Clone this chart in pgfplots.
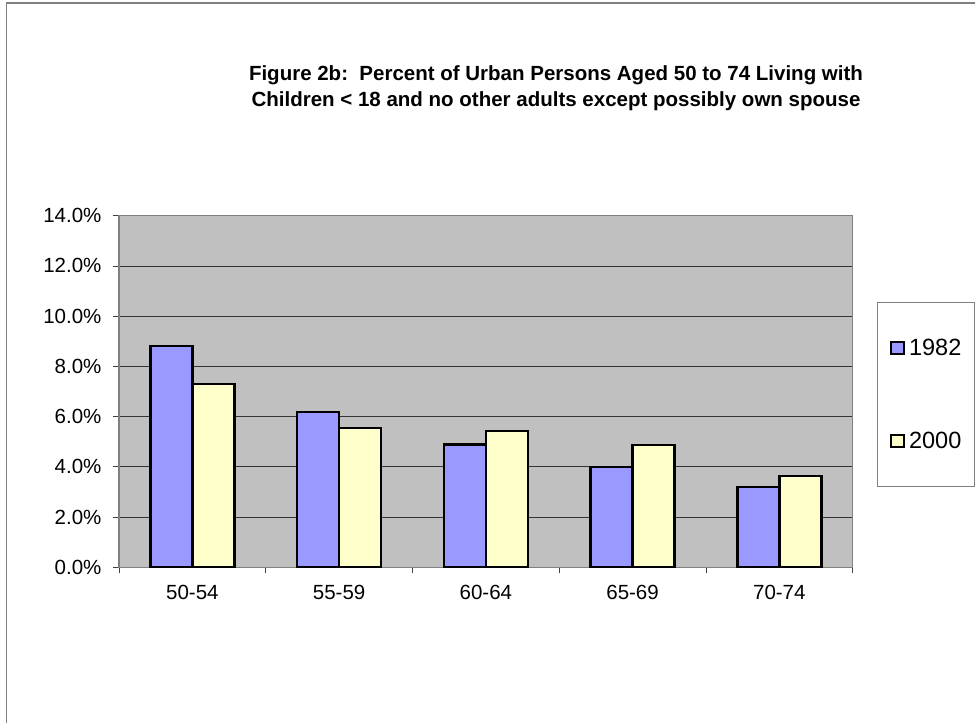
\documentclass[border=0pt]{standalone}
\usepackage{pgfplots}
\pgfplotsset{compat=1.18}
\usepackage{fontspec}
\setmainfont{Liberation Sans}
\definecolor{barA}{HTML}{9999FF}
\definecolor{barB}{HTML}{FFFFCC}
\definecolor{plotbg}{HTML}{C0C0C0}
\definecolor{frame}{HTML}{808080}
\begin{document}
\begin{tikzpicture}
\path[use as bounding box] (0,0) rectangle (975pt,723pt);
\fill[white] (0,0) rectangle (975pt,723pt);
\draw[frame, line width=1.3pt] (6.5pt,0) -- (6.5pt,720pt) -- (975pt,720pt);
\node[font=\fontsize{20.5}{26}\selectfont\bfseries, align=center] at (556pt,635pt)
  {Figure 2b:\ \ Percent of Urban Persons Aged 50 to 74 Living with\\Children < 18 and no other adults except possibly own spouse};
\begin{axis}[
  at={(119pt,155.7pt)}, anchor=south west, scale only axis,
  width=733.7pt, height=351.6pt,
  ybar=0pt, bar width=42pt,
  xmin=-0.5, xmax=4.5, ymin=0, ymax=14,
  xtick={-0.5,0.5,1.5,2.5,3.5,4.5},
  x tick label as interval,
  xticklabels={50-54,55-59,60-64,65-69,70-74},
  ytick={0,2,...,14},
  yticklabel={\pgfmathprintnumber[fixed,fixed zerofill,precision=1,assume math mode=true]{\tick}\%},
  ticklabel style={font=\fontsize{20.5}{24}\selectfont},
  xticklabel style={yshift=-8pt},
  yticklabel style={xshift=-8pt},
  tick pos=left, tick align=outside,
  major tick length=6pt,
  tick style={black!75, line width=0.8pt},
  axis line style={frame, line width=1.2pt},
  axis background/.style={fill=plotbg},
  ymajorgrids, major grid style={black!80, line width=0.8pt},
  legend style={at={(rel axis cs:1.0327,0.7554)}, anchor=north west,
    draw=frame, line width=0.8pt, font=\fontsize{23.5}{24}\selectfont,
    inner xsep=12.8pt, inner ysep=37pt, row sep=74.9pt, column sep=4.5pt,
    nodes={inner sep=0pt}},
  legend cell align=left,
  legend image code/.code={\draw[#1, line width=2pt] (0pt,-6.35pt) rectangle (12.7pt,6.35pt);},
]
\addplot[fill=barA, draw=black, line width=2.6pt] coordinates {(0,8.81) (1,6.18) (2,4.89) (3,4.00) (4,3.19)};
\addplot[fill=barB, draw=black, line width=2.6pt] coordinates {(0,7.30) (1,5.55) (2,5.43) (3,4.87) (4,3.64)};
\legend{1982,2000}
\end{axis}
\end{tikzpicture}
\end{document}
